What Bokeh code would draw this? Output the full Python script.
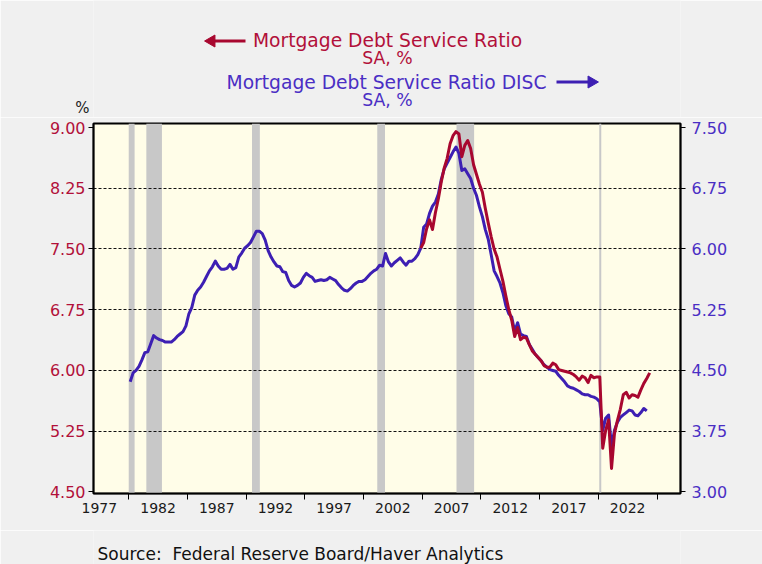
import math
from bokeh.plotting import figure
from bokeh.layouts import column
from bokeh.models import (Range1d, LinearAxis, FixedTicker, BoxAnnotation, Grid,
                          PrintfTickFormatter)
from bokeh.core.properties import value
from bokeh.embed import file_html
from bokeh.resources import INLINE

# ---------------- data ----------------
# Mortgage Debt Service Ratio DISC (right axis), quarterly from 1980Q1
disc_start_year = 1980
disc_start_q = 1
disc_vals = [
    4.36, 4.47, 4.50, 4.55,   # 1980
    4.63, 4.72, 4.73, 4.83,   # 1981
    4.93, 4.90, 4.88, 4.87,   # 1982
    4.85, 4.85, 4.85, 4.88,   # 1983
    4.92, 4.95, 4.98, 5.05,   # 1984
    5.20, 5.28, 5.43, 5.49,   # 1985
    5.53, 5.59, 5.66, 5.73,   # 1986
    5.78, 5.85, 5.79, 5.75,   # 1987
    5.75, 5.76, 5.81, 5.75,   # 1988
    5.77, 5.90, 5.95, 6.01,   # 1989
    6.04, 6.08, 6.15, 6.22,   # 1990
    6.22, 6.19, 6.11, 5.98,   # 1991
    5.90, 5.84, 5.79, 5.78,   # 1992
    5.72, 5.71, 5.61, 5.55,   # 1993
    5.53, 5.55, 5.58, 5.65,   # 1994
    5.70, 5.67, 5.65, 5.60,   # 1995
    5.61, 5.62, 5.61, 5.62,   # 1996
    5.65, 5.63, 5.61, 5.56,   # 1997
    5.52, 5.49, 5.48, 5.51,   # 1998
    5.55, 5.58, 5.60, 5.60,   # 1999
    5.62, 5.66, 5.70, 5.73,   # 2000
    5.75, 5.80, 5.79, 5.945,  # 2001
    5.84, 5.79, 5.83, 5.86,   # 2002
    5.89, 5.84, 5.80, 5.85,   # 2003
    5.85, 5.88, 5.93, 6.01,   # 2004
    6.27, 6.31, 6.44, 6.53,   # 2005
    6.58, 6.68, 6.86, 6.99,   # 2006
    7.06, 7.13, 7.20, 7.26,   # 2007
    7.18, 6.97, 6.99, 6.93,   # 2008
    6.87, 6.75, 6.66, 6.52,   # 2009
    6.40, 6.24, 6.12, 5.93,   # 2010
    5.73, 5.66, 5.58, 5.46,   # 2011
    5.30, 5.20, 5.16, 4.98,   # 2012
    5.09, 4.95, 4.93, 4.92,   # 2013
    4.82, 4.76, 4.70, 4.66,   # 2014
    4.62, 4.57, 4.54, 4.51,   # 2015
    4.50, 4.49, 4.44, 4.40,   # 2016
    4.36, 4.31, 4.29, 4.28,   # 2017
    4.26, 4.24, 4.21, 4.20,   # 2018
    4.20, 4.18, 4.17, 4.15,   # 2019
    4.11, 3.76, 3.91, 3.95,   # 2020
    3.56, 3.76, 3.86, 3.92,   # 2021
    3.95, 3.98, 4.01, 4.00,   # 2022
    3.95, 3.94, 3.98, 4.03,   # 2023
    4.00,                     # 2024
]

# Mortgage Debt Service Ratio (left axis), quarterly from 2004Q4
msr_start_year = 2004
msr_start_q = 4
msr_vals = [
    7.51,                     # 2004Q4
    7.58, 7.75, 7.86, 7.74,   # 2005
    7.95, 8.12, 8.33, 8.50,   # 2006
    8.62, 8.80, 8.90, 8.95,   # 2007
    8.92, 8.64, 8.78, 8.84,   # 2008
    8.74, 8.54, 8.42, 8.30,   # 2009
    8.20, 8.00, 7.82, 7.65,   # 2010
    7.50, 7.40, 7.25, 7.10,   # 2011
    6.92, 6.75, 6.62, 6.42,   # 2012
    6.53, 6.38, 6.41, 6.40,   # 2013
    6.32, 6.24, 6.20, 6.16,   # 2014
    6.12, 6.06, 6.04, 6.04,   # 2015
    6.09, 6.07, 6.01, 6.00,   # 2016
    5.99, 5.98, 5.97, 5.95,   # 2017
    5.92, 5.88, 5.93, 5.91,   # 2018
    5.85, 5.94, 5.91, 5.92,   # 2019
    5.92, 5.04, 5.26, 5.39,   # 2020
    4.79, 5.22, 5.38, 5.52,   # 2021
    5.70, 5.73, 5.66, 5.70,   # 2022
    5.69, 5.67, 5.76, 5.84,   # 2023
    5.90, 5.97,               # 2024
]

# recessions (fractional years)
rec_start = [1980.0, 1981.5, 1990.5, 2001.17, 2007.92, 2020.08]
rec_end = [1980.5, 1982.83, 1991.17, 2001.83, 2009.42, 2020.25]

year_labels = ["1977", "1982", "1987", "1992", "1997", "2002", "2007", "2012", "2017", "2022"]
year_ticks = [1980, 1985, 1990, 1995, 2000, 2005, 2010, 2015, 2020, 2025]
left_ticks = [4.50, 5.25, 6.00, 6.75, 7.50, 8.25, 9.00]
right_ticks = [3.00, 3.75, 4.50, 5.25, 6.00, 6.75, 7.50]

title_red = "Mortgage Debt Service Ratio"
title_blue = "Mortgage Debt Service Ratio DISC"
subtitle = "SA, %"
unit_label = "%"
source = "Source:\u00a0 Federal Reserve Board/Haver Analytics"


def quarter_positions(year, q, n):
    # quarterly observations plotted at mid-quarter
    return [year + (q - 1) * 0.25 + 0.125 + 0.25 * i for i in range(n)]


disc_x = quarter_positions(disc_start_year, disc_start_q, len(disc_vals))
msr_x = quarter_positions(msr_start_year, msr_start_q, len(msr_vals))

# ---------------- style ----------------
FONT = "DejaVu Sans"
RED = "#a8072f"
BLUE = "#3d1fb3"
RED_TXT = "#b2103a"
BLUE_TXT = "#4a2ec4"
PAGE_BG = "#f0f0f0"
PLOT_BG = "#fffde8"
REC = "#c8c8c8"

W = 762
HEAD_H = 117
MAIN_H = 413
FOOT_H = 34
F_LEFT, F_RIGHT = 93, 680   # plot frame, page pixels (frames of the column are aligned)


def blank(height):
    f = figure(width=W, height=height, x_range=Range1d(F_LEFT, F_RIGHT),
               y_range=Range1d(height, 0), output_backend="svg", title=None,
               toolbar_location=None, x_axis_location=None,
               min_border_left=F_LEFT, min_border_right=W - F_RIGHT,
               min_border_top=0, min_border_bottom=0,
               background_fill_color=PAGE_BG, border_fill_color=PAGE_BG,
               outline_line_color=None)
    f.xgrid.visible = False
    f.ygrid.visible = False
    return f


def htext(fig, x, y, txt, size, color, align="center"):
    fig.text(x=[x], y=[y], text=[txt], text_align=align, text_baseline="middle",
             text_font=value(FONT), text_font_size=size, text_color=color)


# ---------------- header ----------------
head = blank(HEAD_H)
hy = head.yaxis[0]
hy.ticker = FixedTicker(ticks=[109])
hy.major_label_overrides = {109: unit_label}
hy.axis_line_color = None
hy.major_tick_line_color = None
hy.minor_tick_line_color = None
hy.major_tick_out = 0
hy.major_tick_in = 0
hy.major_label_standoff = 4
hy.major_label_text_font = FONT
hy.major_label_text_font_size = "15px"
hy.major_label_text_color = "#222222"

htext(head, 387, 40, title_red, "18.7px", RED_TXT)
htext(head, 387, 57, subtitle, "17.3px", RED_TXT)
htext(head, 386, 81.5, title_blue, "18.7px", BLUE_TXT)
htext(head, 387, 99, subtitle, "17.3px", BLUE_TXT)

head.segment(x0=[213], y0=[40.5], x1=[245], y1=[40.5], line_color=RED, line_width=3)
head.scatter(x=[211], y=[40.5], marker="triangle", size=12, angle=math.pi / 2,
             fill_color=RED, line_color=RED)
head.segment(x0=[556], y0=[81.5], x1=[589], y1=[81.5], line_color=BLUE, line_width=3)
head.scatter(x=[591], y=[81.5], marker="triangle", size=12, angle=-math.pi / 2,
             fill_color=BLUE, line_color=BLUE)

# ---------------- main chart ----------------
p = figure(width=W, height=MAIN_H,
           x_range=Range1d(1977, 2027), y_range=Range1d(4.48, 9.05),
           output_backend="svg", toolbar_location=None,
           min_border_left=F_LEFT, min_border_right=W - F_RIGHT,
           min_border_top=6, min_border_bottom=37,
           background_fill_color=PLOT_BG, border_fill_color=PAGE_BG,
           outline_line_color="black", outline_line_width=2)
p.extra_y_ranges = {"right": Range1d(2.98, 7.55)}

p.xgrid.visible = False
p.ygrid.visible = False

for s, e in zip(rec_start, rec_end):
    p.add_layout(BoxAnnotation(left=s, right=e, fill_color=REC, fill_alpha=1.0,
                               line_color=None, level="underlay"))

grid = Grid(dimension=1, ticker=FixedTicker(ticks=left_ticks[1:-1]),
            grid_line_color="#111111", grid_line_dash="3 2", grid_line_width=1)
p.add_layout(grid)

xa = p.xaxis[0]
xa.ticker = FixedTicker(ticks=[int(y) + 0.5 for y in year_labels], minor_ticks=year_ticks)
xa.major_label_overrides = {int(y) + 0.5: y for y in year_labels}
xa.major_tick_line_color = None
xa.minor_tick_line_color = "black"
xa.minor_tick_in = 0
xa.minor_tick_out = 6
xa.axis_line_color = "black"
xa.axis_line_width = 1.5
xa.major_label_text_font = FONT
xa.major_label_text_font_size = "14px"
xa.major_label_text_color = "#1a1a1a"
xa.major_label_standoff = 3

ya = p.yaxis[0]
ya.ticker = FixedTicker(ticks=left_ticks)
ya.formatter = PrintfTickFormatter(format="%.2f")
ya.minor_tick_line_color = None
ya.major_tick_in = 0
ya.major_tick_out = 5
ya.major_tick_line_color = "black"
ya.axis_line_color = "black"
ya.axis_line_width = 1.5
ya.major_label_text_font = FONT
ya.major_label_text_font_size = "16px"
ya.major_label_text_color = RED_TXT
ya.major_label_standoff = 3

ra = LinearAxis(y_range_name="right", ticker=FixedTicker(ticks=right_ticks),
                formatter=PrintfTickFormatter(format="%.2f"))
ra.minor_tick_line_color = None
ra.major_tick_in = 0
ra.major_tick_out = 5
ra.major_tick_line_color = "black"
ra.axis_line_color = "black"
ra.axis_line_width = 1.5
ra.major_label_text_font = FONT
ra.major_label_text_font_size = "16px"
ra.major_label_text_color = BLUE_TXT
ra.major_label_standoff = 6
p.add_layout(ra, "right")

p.line(disc_x, disc_vals, y_range_name="right", line_color=BLUE, line_width=3,
       line_join="round")
p.line(msr_x, msr_vals, line_color=RED, line_width=3, line_join="round")

# ---------------- footer ----------------
foot = blank(FOOT_H)
foot.yaxis.visible = False
htext(foot, 97, 23, source, "17px", "#111111", align="left")

layout = column(head, p, foot, spacing=0)

open("out.html", "w").write(file_html(layout, INLINE))
